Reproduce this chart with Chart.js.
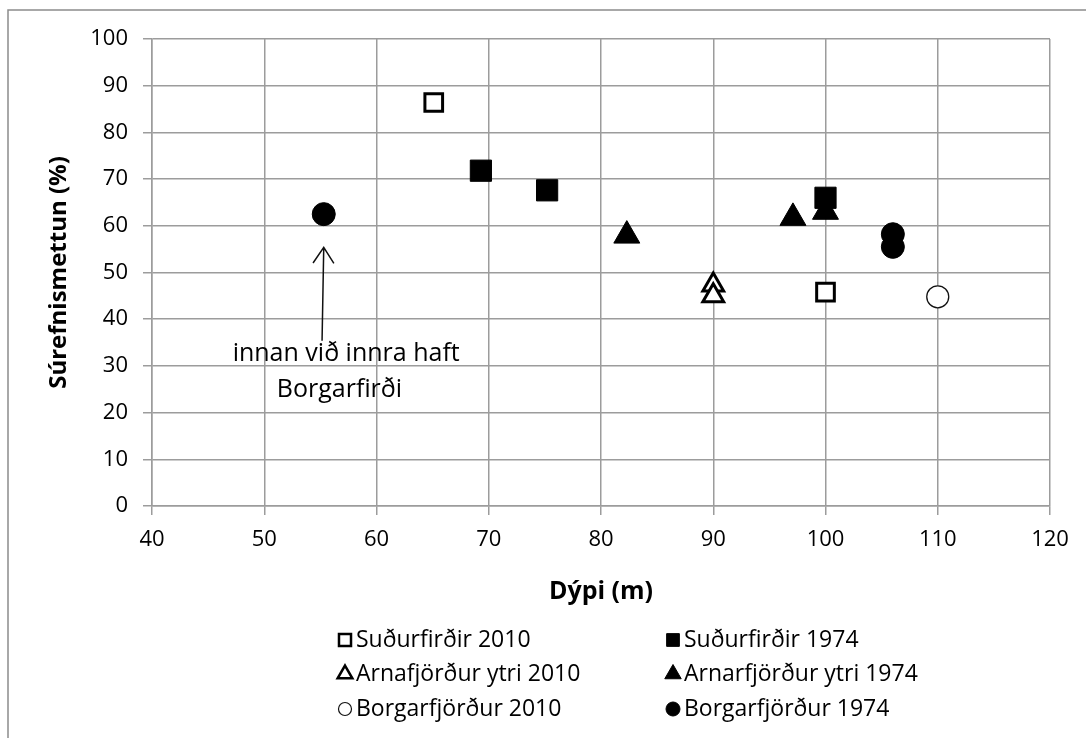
<!DOCTYPE html>
<html>
<head>
<meta charset="utf-8">
<script src="https://cdn.jsdelivr.net/npm/chart.js@4.4.0/dist/chart.umd.min.js"></script>
<style>
    body { margin: 0; background: #fff; }
</style>
</head>
<body>
<canvas id="scatter-chart" width="1086" height="738"></canvas>
<script>
// Súrefnismettun vs. dýpi

var seriesNames = ["Suðurfirðir 2010", "Suðurfirðir 1974", "Arnafjörður ytri 2010", "Arnarfjörður ytri 1974", "Borgarfjörður 2010", "Borgarfjörður 1974"];

var sudur2010Depth = [65.1, 100.0];
var sudur2010Oxygen = [86.4, 45.8];

var sudur1974Depth = [69.3, 75.2, 100.0];
var sudur1974Oxygen = [71.8, 67.6, 66.0];

var arna2010Depth = [90.0, 90.0];
var arna2010Oxygen = [47.3, 45.0];

var arna1974Depth = [82.3, 97.1, 100.0];
var arna1974Oxygen = [57.9, 61.7, 63.0];

var borg2010Depth = [110.0];
var borg2010Oxygen = [44.8];

var borg1974Depth = [55.3, 106.0, 106.0];
var borg1974Oxygen = [62.5, 58.2, 55.5];

var xTickValues = [40, 50, 60, 70, 80, 90, 100, 110, 120];
var yTickValues = [0, 10, 20, 30, 40, 50, 60, 70, 80, 90, 100];

var noteLines = ["innan við innra haft", "Borgarfirði"];

function pts(xs, ys) {
    return xs.map(function (x, i) { return { x: x, y: ys[i] }; });
}

var gridColor = '#9c9c9c';
var fontFamily = "'Open Sans', 'Liberation Sans', sans-serif";

// frame round the whole chart (Excel style)
var chartFrame = {
    id: 'chartFrame',
    beforeDraw: function (chart) {
        var ctx = chart.ctx;
        ctx.save();
        ctx.strokeStyle = '#8c8c8c';
        ctx.lineWidth = 1.5;
        ctx.strokeRect(8, 10, 1200, 900);
        ctx.restore();
    }
};

// arrow + text pointing at the inner Borgarfjörður point
var arrowNote = {
    id: 'arrowNote',
    afterDatasetsDraw: function (chart, args, opts) {
        var ctx = chart.ctx, xs = chart.scales.x, ys = chart.scales.y;
        var x0 = xs.getPixelForValue(opts.from[0]), y0 = ys.getPixelForValue(opts.from[1]);
        var x1 = xs.getPixelForValue(opts.to[0]), y1 = ys.getPixelForValue(opts.to[1]);
        ctx.save();
        ctx.strokeStyle = '#111';
        ctx.lineWidth = 1.5;
        ctx.beginPath();
        ctx.moveTo(x0, y0);
        ctx.lineTo(x1, y1);
        var ang = Math.atan2(y1 - y0, x1 - x0);
        var len = 19, spread = 0.58;
        ctx.moveTo(x1 - len * Math.cos(ang - spread), y1 - len * Math.sin(ang - spread));
        ctx.lineTo(x1, y1);
        ctx.lineTo(x1 - len * Math.cos(ang + spread), y1 - len * Math.sin(ang + spread));
        ctx.stroke();

        ctx.fillStyle = '#000';
        ctx.font = '25px ' + fontFamily;
        ctx.textAlign = 'center';
        ctx.textBaseline = 'middle';
        opts.lines.forEach(function (t, i) {
            var p = opts.at[i];
            ctx.fillText(t, xs.getPixelForValue(p[0]), ys.getPixelForValue(p[1]));
        });
        ctx.restore();
    }
};

// two column legend under the x axis title
var gridLegend = {
    id: 'gridLegend',
    afterDraw: function (chart, args, opts) {
        var ctx = chart.ctx;
        chart.data.datasets.forEach(function (ds, i) {
            var x = opts.colX[i % 2];
            var y = opts.rowY[Math.floor(i / 2)];
            ctx.save();
            ctx.fillStyle = ds.backgroundColor;
            ctx.strokeStyle = ds.borderColor;
            ctx.lineWidth = ds.legendBorder;
            Chart.helpers.drawPoint(ctx, {
                pointStyle: ds.pointStyle,
                rotation: 0,
                radius: ds.legendRadius,
                borderWidth: ds.legendBorder
            }, x, y);
            ctx.fillStyle = '#000';
            ctx.font = opts.fontSize + 'px ' + fontFamily;
            ctx.textAlign = 'left';
            ctx.textBaseline = 'middle';
            ctx.fillText(ds.label, x + opts.gap, y);
            ctx.restore();
        });
    }
};

new Chart(document.getElementById("scatter-chart"), {
    type: 'scatter',
    data: {
        datasets: [
            {
                label: seriesNames[0],
                data: pts(sudur2010Depth, sudur2010Oxygen),
                pointStyle: 'rect', pointRadius: 12.5,
                backgroundColor: '#ffffff', borderColor: '#000000', pointBorderWidth: 3,
                legendRadius: 8.5, legendBorder: 2.5
            },
            {
                label: seriesNames[1],
                data: pts(sudur1974Depth, sudur1974Oxygen),
                pointStyle: 'rect', pointRadius: 15,
                backgroundColor: '#000000', borderColor: '#000000', pointBorderWidth: 1,
                legendRadius: 9, legendBorder: 1
            },
            {
                label: seriesNames[2],
                data: pts(arna2010Depth, arna2010Oxygen),
                pointStyle: 'triangle', pointRadius: 12,
                backgroundColor: '#ffffff', borderColor: '#000000', pointBorderWidth: 3,
                legendRadius: 8.5, legendBorder: 2.5
            },
            {
                label: seriesNames[3],
                data: pts(arna1974Depth, arna1974Oxygen),
                pointStyle: 'triangle', pointRadius: 15,
                backgroundColor: '#000000', borderColor: '#000000', pointBorderWidth: 1,
                legendRadius: 9.5, legendBorder: 1
            },
            {
                label: seriesNames[4],
                data: pts(borg2010Depth, borg2010Oxygen),
                pointStyle: 'circle', pointRadius: 11,
                backgroundColor: '#ffffff', borderColor: '#111111', pointBorderWidth: 1.3,
                legendRadius: 6.5, legendBorder: 1.2
            },
            {
                label: seriesNames[5],
                data: pts(borg1974Depth, borg1974Oxygen),
                pointStyle: 'circle', pointRadius: 11.5,
                backgroundColor: '#000000', borderColor: '#000000', pointBorderWidth: 1,
                legendRadius: 7, legendBorder: 1
            }
        ]
    },
    options: {
        responsive: false,
        animation: false,
        events: [],
        layout: { padding: { left: 0, top: 39, right: 36, bottom: 0 } },
        plugins: {
            legend: { display: false },
            tooltip: { enabled: false },
            arrowNote: {
                from: [55.15, 35.4],
                to: [55.3, 55.4],
                lines: noteLines,
                at: [[57.3, 32.6], [56.7, 24.8]]
            },
            gridLegend: {
                colX: [345, 673],
                rowY: [640, 674, 709],
                gap: 11,
                fontSize: 23
            }
        },
        scales: {
            x: {
                type: 'linear',
                min: 40,
                max: 120,
                afterBuildTicks: function (axis) {
                    axis.ticks = xTickValues.map(function (v) { return { value: v }; });
                },
                afterFit: function (axis) { axis.height = 232; },
                grid: { color: gridColor, lineWidth: 1.5, tickLength: 9 },
                border: { color: gridColor, width: 1.5 },
                ticks: { color: '#000', padding: 12, font: { size: 22, family: fontFamily } },
                title: {
                    display: true,
                    text: 'Dýpi (m)',
                    color: '#000',
                    font: { size: 25, weight: 'bold', family: fontFamily },
                    padding: { top: 0, bottom: 131 }
                }
            },
            y: {
                type: 'linear',
                min: 0,
                max: 100,
                afterBuildTicks: function (axis) {
                    axis.ticks = yTickValues.map(function (v) { return { value: v }; });
                },
                afterFit: function (axis) { axis.width = 152; },
                grid: { color: gridColor, lineWidth: 1.5, tickLength: 9 },
                border: { color: gridColor, width: 1.5 },
                ticks: { color: '#000', padding: 15, font: { size: 22, family: fontFamily } },
                title: {
                    display: true,
                    text: 'Súrefnismettun (%)',
                    color: '#000',
                    font: { size: 24, weight: 'bold', family: fontFamily },
                    padding: { top: 45, bottom: 0 }
                }
            }
        }
    },
    plugins: [chartFrame, arrowNote, gridLegend]
});
</script>
</body>
</html>
